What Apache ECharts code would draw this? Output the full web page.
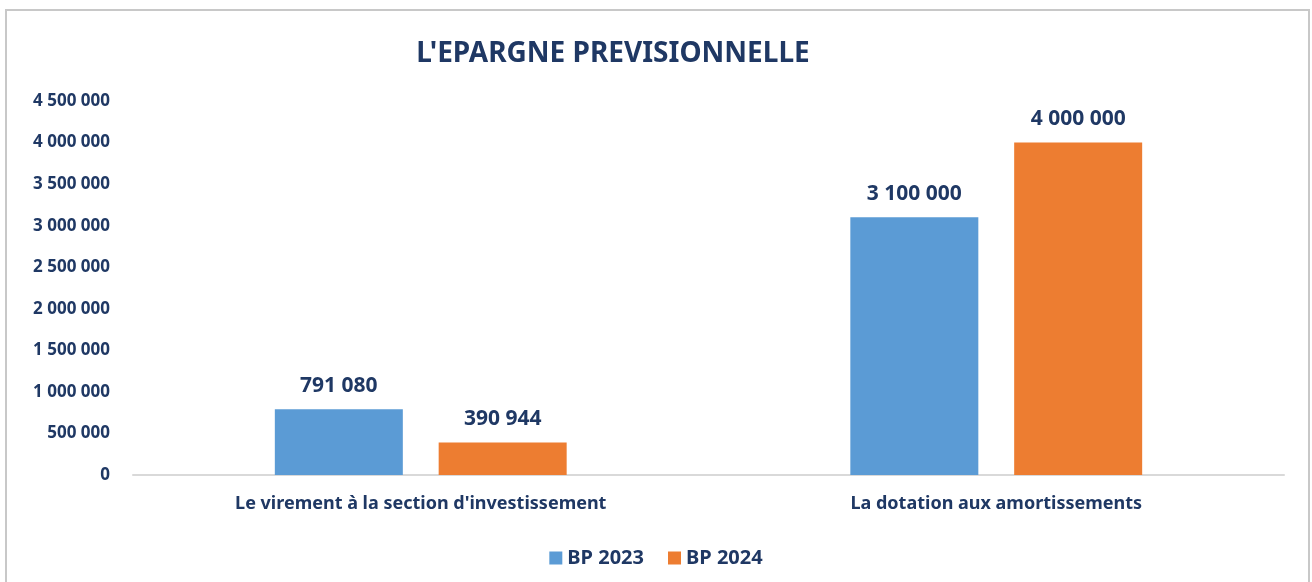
<!DOCTYPE html>
<html>
<head>
  <meta charset="utf-8">
  <title>L'EPARGNE PREVISIONNELLE</title>
  <script src="https://cdn.jsdelivr.net/npm/echarts@6/dist/echarts.min.js"></script>
  <style>
    html, body {
      margin: 0;
      padding: 0;
      background: #fff;
    }
    /* frame round the chart, like the pasted picture */
    .frame {
      position: absolute;
      left: 5px;
      top: 9px;
      width: 1301px;
      height: 600px;
      border: 2px solid #c8c8c8;
    }
    #chart {
      position: absolute;
      left: 0;
      top: 0;
      width: 1312px;
      height: 582px;
    }
  </style>
</head>
<body>
  <div class="frame"></div>
  <div id="chart"></div>
  <script>
    var categories = ["Le virement à la section d'investissement", "La dotation aux amortissements"];
    var seriesNames = ["BP 2023", "BP 2024"];
    var bp2023 = [791080, 3100000];
    var bp2024 = [390944, 4000000];
    var yTicks = { min: 0, max: 4500000, interval: 500000 };

    var navy = '#1f3864';
    var font = "'Noto Sans', 'Open Sans', sans-serif";

    // 4500000 -> "4 500 000"
    function spaced(v) {
      return String(v).replace(/\B(?=(\d{3})+(?!\d))/g, ' ');
    }

    var chart = echarts.init(document.getElementById('chart'));
    chart.setOption({
      animation: false,
      backgroundColor: 'transparent',
      title: {
        text: "L'EPARGNE PREVISIONNELLE",
        left: 608,
        top: 35,
        textAlign: 'center',
        textStyle: { color: navy, fontSize: 28, fontWeight: 'bold', fontFamily: font }
      },
      legend: {
        data: seriesNames,
        top: 543,
        left: 'center',
        itemWidth: 13,
        itemHeight: 13,
        itemGap: 24,
        icon: 'rect',
        textStyle: { color: navy, fontSize: 20, fontWeight: 'bold', fontFamily: font }
      },
      grid: { left: 133, right: 28, top: 101, bottom: 107, containLabel: false },
      xAxis: {
        type: 'category',
        data: categories,
        axisLine: { lineStyle: { color: '#d9d9d9', width: 2 } },
        axisTick: { show: false },
        axisLabel: {
          color: navy, fontSize: 18, fontWeight: 'bold', fontFamily: font, margin: 20
        }
      },
      yAxis: {
        type: 'value',
        min: yTicks.min,
        max: yTicks.max,
        interval: yTicks.interval,
        axisLine: { show: false },
        axisTick: { show: false },
        splitLine: { show: false },
        axisLabel: {
          color: navy, fontSize: 17, fontWeight: 'bold', fontFamily: font, margin: 23,
          formatter: spaced
        }
      },
      series: [
        {
          name: seriesNames[0],
          type: 'bar',
          data: bp2023,
          barWidth: 128,
          barGap: '28%',
          itemStyle: { color: '#5b9bd5' },
          label: {
            show: true, position: 'top', distance: 13,
            color: navy, fontSize: 21, fontWeight: 'bold', fontFamily: font,
            formatter: function (p) { return spaced(p.value); }
          }
        },
        {
          name: seriesNames[1],
          type: 'bar',
          data: bp2024,
          barWidth: 128,
          barGap: '28%',
          itemStyle: { color: '#ed7d31' },
          label: {
            show: true, position: 'top', distance: 13,
            color: navy, fontSize: 21, fontWeight: 'bold', fontFamily: font,
            formatter: function (p) { return spaced(p.value); }
          }
        }
      ]
    });
  </script>
</body>
</html>
